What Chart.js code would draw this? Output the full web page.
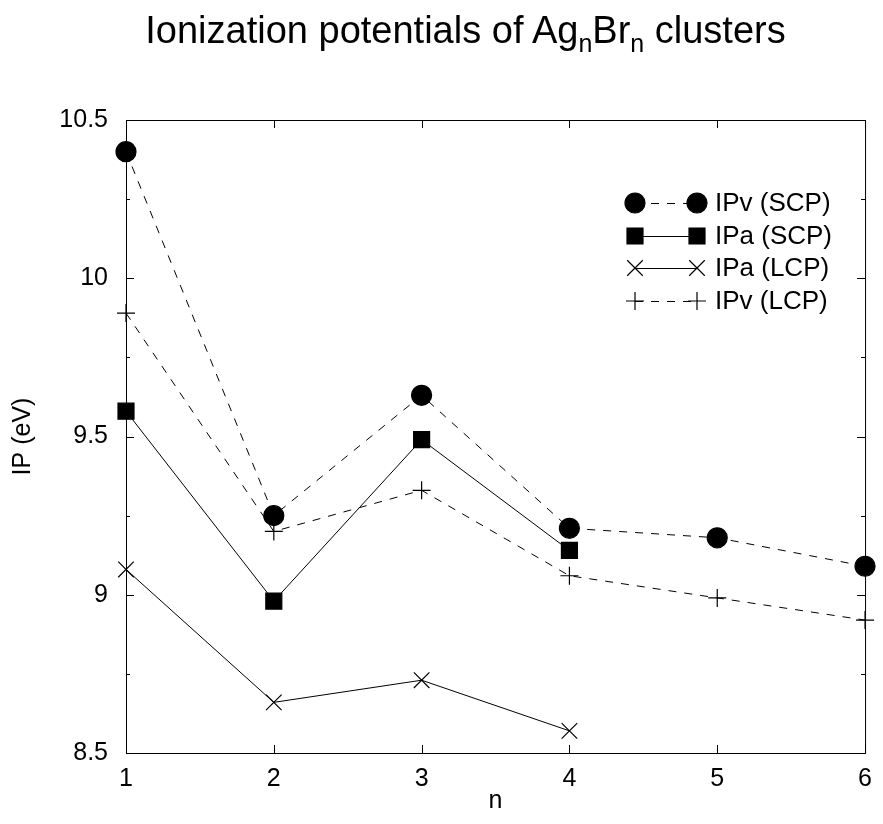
<!DOCTYPE html>
<html lang="en">
<head>
  <meta charset="utf-8">
  <title>Ionization potentials of AgnBrn clusters</title>
  <script src="https://cdn.jsdelivr.net/npm/chart.js@4.4.1/dist/chart.umd.min.js"></script>
  <style>
    body { margin: 0; background: #fff; }
    #wrap { position: relative; width: 883px; height: 824px; }
    #title {
      position: absolute; left: 0; top: 9px; width: 931px;
      text-align: center; white-space: nowrap;
      font-family: "Liberation Sans", Arial, sans-serif; font-size: 38px; color: #000;
    }
    #title sub { font-size: 25px; vertical-align: -9px; line-height: 0; }
  </style>
</head>
<body>
<div id="wrap">
  <canvas id="chart" width="883" height="824"></canvas>
  <div id="title">Ionization potentials of Ag<sub>n</sub>Br<sub>n</sub> clusters</div>
</div>
<script>
// cluster size n and the four IP series (eV)
var nValues = [1, 2, 3, 4, 5, 6];
var ipvSCP = [10.40, 9.25, 9.63, 9.21, 9.18, 9.09];
var ipaSCP = [9.58, 8.98, 9.49, 9.14];
var ipaLCP = [9.08, 8.66, 8.73, 8.57];
var ipvLCP = [9.89, 9.20, 9.33, 9.06, 8.99, 8.92];

var yTicks = [8.5, 9, 9.5, 10, 10.5];
var FONT = '"Liberation Sans", Arial, sans-serif';

function pts(vals) {
  return vals.map(function (v, i) { return { x: nValues[i], y: v }; });
}

function series(label, vals, style, radius, dash) {
  return {
    label: label,
    data: pts(vals),
    borderColor: '#000',
    backgroundColor: '#000',
    borderWidth: 1,
    borderDash: dash,
    pointStyle: style,
    pointRadius: radius,
    pointHoverRadius: radius,
    pointBorderWidth: 1.2,
    pointBorderColor: '#000',
    pointBackgroundColor: '#000',
    tension: 0,
    clip: false
  };
}

// frame + inward ticks on all four sides
var frameTicks = {
  id: 'frameTicks',
  afterDatasetsDraw: function (chart) {
    var ctx = chart.ctx, a = chart.chartArea;
    var xs = chart.scales.x, ys = chart.scales.y;
    ctx.save();
    ctx.strokeStyle = '#000';
    ctx.lineWidth = 1;
    ctx.strokeRect(a.left + 0.5, a.top + 0.5, a.right - a.left, a.bottom - a.top);
    ctx.beginPath();
    nValues.forEach(function (n) {
      var px = Math.round(xs.getPixelForValue(n)) + 0.5;
      ctx.moveTo(px, a.bottom); ctx.lineTo(px, a.bottom - 8);
      ctx.moveTo(px, a.top); ctx.lineTo(px, a.top + 8);
    });
    for (var v = 8.5; v <= 10.5001; v += 0.25) {
      var py = Math.round(ys.getPixelForValue(v)) + 0.5;
      var len = (Math.abs(v * 2 - Math.round(v * 2)) < 1e-6) ? 8 : 4;
      ctx.moveTo(a.left, py); ctx.lineTo(a.left + len, py);
      ctx.moveTo(a.right, py); ctx.lineTo(a.right - len, py);
    }
    ctx.stroke();
    ctx.restore();
  }
};

// gnuplot-style key: line with a marker at each end
var keyBox = {
  id: 'keyBox',
  afterDraw: function (chart) {
    var ctx = chart.ctx;
    var rows = [203, 236, 268, 301];
    var x1 = 635, x2 = 697, tx = 715;
    ctx.save();
    chart.data.datasets.forEach(function (ds, i) {
      var y = rows[i];
      ctx.strokeStyle = '#000';
      ctx.lineWidth = 1;
      ctx.setLineDash(ds.borderDash || []);
      ctx.beginPath();
      ctx.moveTo(x1, y + 0.5); ctx.lineTo(x2, y + 0.5);
      ctx.stroke();
      ctx.setLineDash([]);
      ctx.fillStyle = '#000';
      ctx.lineWidth = ds.pointBorderWidth;
      var opts = { pointStyle: ds.pointStyle, radius: ds.pointRadius, rotation: 0, borderWidth: ds.pointBorderWidth };
      Chart.helpers.drawPoint(ctx, opts, x1, y);
      Chart.helpers.drawPoint(ctx, opts, x2, y);
      ctx.font = '26px ' + FONT;
      ctx.textAlign = 'left';
      ctx.textBaseline = 'middle';
      ctx.fillText(ds.label, tx, y + 1);
    });
    ctx.restore();
  }
};

new Chart(document.getElementById('chart'), {
  type: 'line',
  data: {
    datasets: [
      series('IPv (SCP)', ipvSCP, 'circle', 10, [8, 8]),
      series('IPa (SCP)', ipaSCP, 'rect', 11.3, []),
      series('IPa (LCP)', ipaLCP, 'crossRot', 11, []),
      series('IPv (LCP)', ipvLCP, 'cross', 9, [8, 8])
    ]
  },
  options: {
    responsive: false,
    animation: false,
    layout: { padding: { top: 120, right: 12, left: 0, bottom: 0 } },
    plugins: {
      legend: { display: false },
      title: { display: false },
      tooltip: { enabled: false }
    },
    scales: {
      x: {
        type: 'linear', min: 1, max: 6,
        afterBuildTicks: function (s) { s.ticks = nValues.map(function (n) { return { value: n }; }); },
        afterFit: function (s) { s.height = 71; },
        grid: { display: false, drawTicks: false },
        border: { display: false },
        ticks: { color: '#000', padding: 11, font: { family: FONT, size: 25 } },
        title: { display: true, text: 'n', color: '#000', padding: { top: 0, bottom: 8 }, font: { family: FONT, size: 25 } }
      },
      y: {
        type: 'linear', min: 8.5, max: 10.5,
        afterBuildTicks: function (s) { s.ticks = yTicks.map(function (v) { return { value: v }; }); },
        afterFit: function (s) { s.width = 126; },
        grid: { display: false, drawTicks: false },
        border: { display: false },
        ticks: { color: '#000', padding: 18, font: { family: FONT, size: 25 }, callback: function (v) { return String(v); } },
        title: { display: true, text: 'IP (eV)', color: '#000', padding: { top: 8, bottom: 0 }, font: { family: FONT, size: 25 } }
      }
    }
  },
  plugins: [frameTicks, keyBox]
});
</script>
</body>
</html>
